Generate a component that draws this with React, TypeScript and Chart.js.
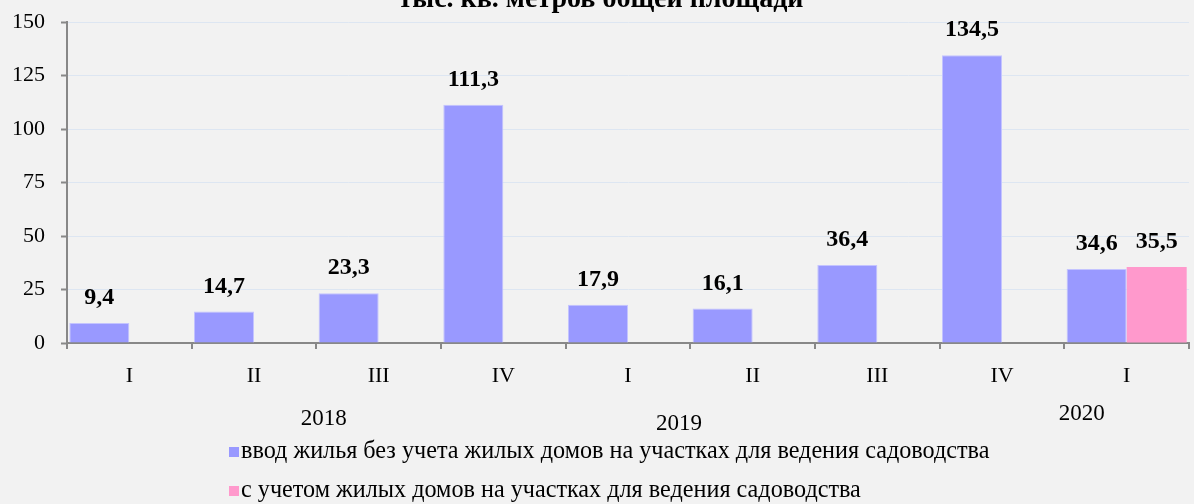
import React, { useEffect, useRef } from "react";
import { Chart, registerables } from "chart.js";

Chart.register(...registerables);

const categories = ["I", "II", "III", "IV", "I", "II", "III", "IV", "I"];
const seriesMain = [9.4, 14.7, 23.3, 111.3, 17.9, 16.1, 36.4, 134.5, 34.6];
const seriesGarden = [null, null, null, null, null, null, null, null, 35.5];
const seriesLabels = [
  "ввод жилья без учета жилых домов на участках для ведения садоводства",
  "с учетом жилых домов на участках для ведения садоводства",
];
const years = ["2018", "2019", "2020"];
const yearPositions = [1.56, 4.41, 7.64];
const yearOffsets = [76, 81, 71];
const titleText = "тыс. кв. метров общей площади";
const yTicks = [0, 25, 50, 75, 100, 125, 150];

const SERIF = "'Liberation Serif', 'Times New Roman', serif";

const overlayPlugin = {
  id: "overlay",
  afterDatasetsDraw(chart: any) {
    const ctx = chart.ctx;
    ctx.save();
    ctx.fillStyle = "#000";
    ctx.font = `bold 24px ${SERIF}`;
    ctx.textAlign = "center";
    ctx.textBaseline = "middle";
    chart.data.datasets.forEach((ds: any, di: number) => {
      const meta = chart.getDatasetMeta(di);
      meta.data.forEach((el: any, i: number) => {
        const v = ds.data[i];
        if (v === null || v === undefined) return;
        ctx.fillText(String(v).replace(".", ","), el.x, el.y - 25);
      });
    });
    ctx.restore();
  },
  afterDraw(chart: any) {
    const ctx = chart.ctx;
    const xs = chart.scales.x;
    const bottom = chart.chartArea.bottom;
    ctx.save();
    // title (cut off at top)
    ctx.fillStyle = "#000";
    ctx.font = `bold 28px ${SERIF}`;
    ctx.textAlign = "center";
    ctx.textBaseline = "alphabetic";
    ctx.fillText(titleText, 601, 7);
    // years
    ctx.font = `23px ${SERIF}`;
    ctx.textBaseline = "middle";
    years.forEach((y, i) => {
      ctx.fillText(y, xs.getPixelForValue(yearPositions[i]), bottom + yearOffsets[i]);
    });
    // legend
    ctx.textAlign = "left";
    ctx.font = `24.2px ${SERIF}`;
    const legendY = [452, 491];
    chart.data.datasets.forEach((ds: any, di: number) => {
      ctx.fillStyle = ds.backgroundColor;
      ctx.fillRect(229, legendY[di] - 5, 10, 10);
      ctx.fillStyle = "#000";
      ctx.fillText(ds.label, 241, legendY[di]);
    });
    ctx.restore();
  },
};

export default function App() {
  const ref = useRef<HTMLCanvasElement>(null);
  useEffect(() => {
    document.body.style.margin = "0";
    const chart = new Chart(ref.current as HTMLCanvasElement, {
      type: "bar",
      data: {
        labels: categories,
        datasets: [
          {
            label: seriesLabels[0],
            data: seriesMain,
            backgroundColor: "#9999ff",
            borderColor: "#c4c4ff",
            borderWidth: 1,
            categoryPercentage: 0.963,
            barPercentage: 1,
          },
          {
            label: seriesLabels[1],
            data: seriesGarden,
            backgroundColor: "#ff99cc",
            borderColor: "#ff99cc",
            borderWidth: 0,
            categoryPercentage: 0.963,
            barPercentage: 1,
          },
        ],
      },
      options: {
        animation: false,
        responsive: false,
        maintainAspectRatio: false,
        layout: { padding: { top: 22, right: 5, left: 0, bottom: 0 } },
        plugins: {
          legend: { display: false },
          title: { display: false },
          tooltip: { enabled: false },
        },
        scales: {
          x: {
            offset: true,
            grid: {
              offset: true,
              drawOnChartArea: false,
              drawTicks: true,
              tickLength: 6,
              color: "#888888",
              lineWidth: 2,
            },
            border: { color: "#888888", width: 2 },
            ticks: {
              color: "#000",
              font: { family: SERIF, size: 22 },
              padding: 14,
              maxRotation: 0,
              autoSkip: false,
            },
            afterFit(scale: any) {
              scale.height = 161;
              scale.paddingLeft = 0;
              scale.paddingRight = 0;
            },
          },
          y: {
            min: 0,
            max: 150,
            afterBuildTicks(scale: any) {
              scale.ticks = yTicks.map((v) => ({ value: v }));
            },
            grid: {
              color: "#dde6f2",
              lineWidth: 1,
              tickLength: 6,
              tickColor: "#888888",
              tickWidth: 2,
            },
            border: { color: "#888888", width: 2 },
            ticks: {
              color: "#000",
              font: { family: SERIF, size: 22 },
              padding: 16,
            },
            afterFit(scale: any) {
              scale.width = 67;
              scale.paddingTop = 0;
              scale.paddingBottom = 0;
            },
          },
        },
      },
      plugins: [overlayPlugin],
    });
    return () => chart.destroy();
  }, []);
  return (
    <div style={{ width: 1194, height: 504, background: "#f2f2f2" }}>
      <canvas ref={ref} width={1194} height={504} style={{ display: "block" }} />
    </div>
  );
}
